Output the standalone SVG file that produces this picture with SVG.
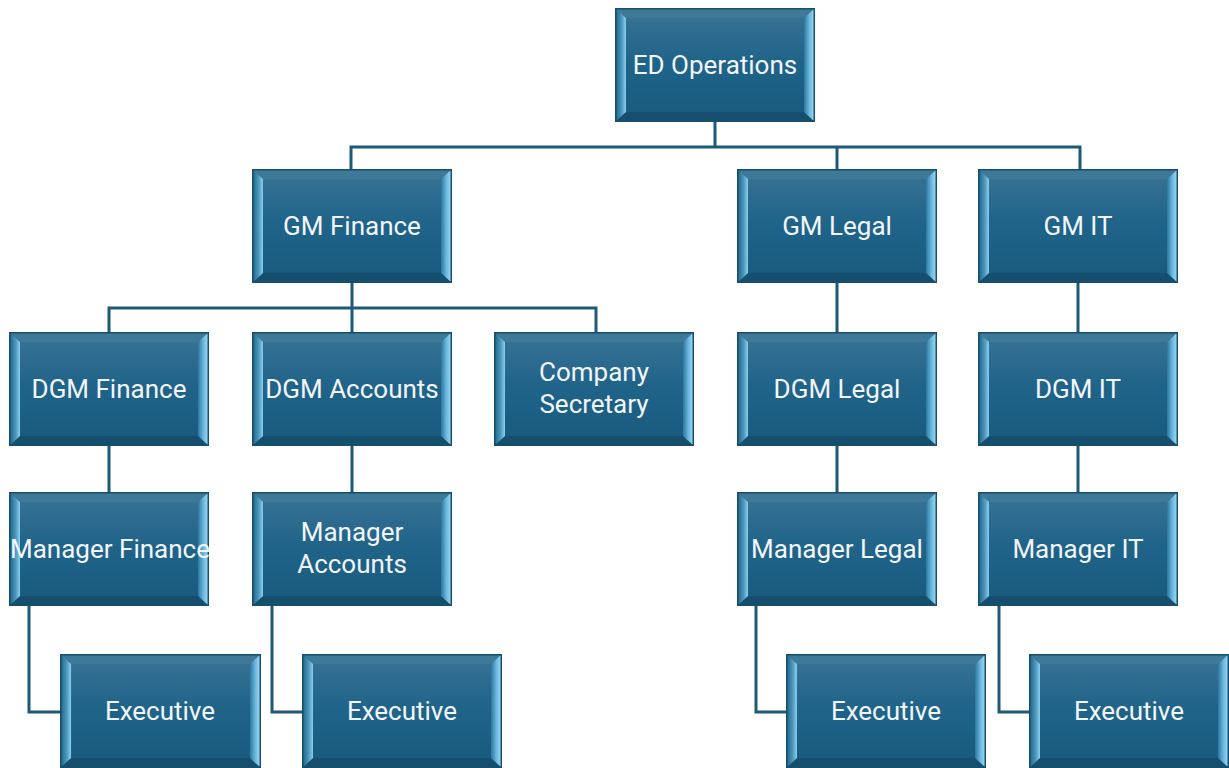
<svg xmlns="http://www.w3.org/2000/svg" xmlns:xlink="http://www.w3.org/1999/xlink" width="1229" height="768" viewBox="0 0 1229 768">
<style>
.lbl{font-family:Roboto,"Liberation Sans",sans-serif;font-size:26px;fill:#F2F6F9;text-anchor:middle}
.conn{fill:none;stroke:#1E5976;stroke-width:3}
</style>
<defs>
<linearGradient id="body" x1="0" y1="0" x2="0" y2="1">
<stop offset="0" stop-color="#3A7495"/><stop offset="0.45" stop-color="#21648A"/><stop offset="1" stop-color="#175A7D"/>
</linearGradient>
<linearGradient id="lb" x1="0" y1="0" x2="1" y2="0">
<stop offset="0" stop-color="#1B5E80"/><stop offset="0.6" stop-color="#4C97BC"/><stop offset="1" stop-color="#8ACFEF"/>
</linearGradient>
<linearGradient id="rb" x1="0" y1="0" x2="1" y2="0">
<stop offset="0" stop-color="#2C77A0"/><stop offset="0.5" stop-color="#6DB8DE"/><stop offset="1" stop-color="#A6E0F7"/>
</linearGradient>
<symbol id="box" viewBox="0 0 200 114" preserveAspectRatio="none">
<rect x="0" y="0" width="200" height="114" fill="url(#body)"/>
<polygon points="0,0 200,0 189,10 11,10" fill="#3F7998"/>
<polygon points="0,114 200,114 189,104 11,104" fill="#164F6E"/>
<polygon points="0,0 11,10 11,104 0,114" fill="url(#lb)"/>
<polygon points="200,0 189,10 189,104 200,114" fill="url(#rb)"/>
<rect x="0.75" y="0.75" width="198.5" height="112.5" fill="none" stroke="#164E6C" stroke-width="1.5"/>
</symbol>
</defs>
<rect width="1229" height="768" fill="#FFFFFF"/>
<g id="connectors">
<path class="conn" d="M715,122 V147 M351,169 V147 H1080 V169 M837,147 V169"/>
<path class="conn" d="M352,283 V308 M109,332 V308 H596 V332 M352,308 V332"/>
<path class="conn" d="M837,283 V332 M1078,283 V332"/>
<path class="conn" d="M109,446 V492 M352,446 V492 M837,446 V492 M1078,446 V492"/>
<path class="conn" d="M29,606 V712 H60 M272,606 V712 H302 M756,606 V712 H786 M999,606 V712 H1029"/>
</g>
<g id="ed-operations"><use xlink:href="#box" x="615" y="8" width="200" height="114"/><text class="lbl" x="715" y="74">ED Operations</text></g>
<g id="gm-finance"><use xlink:href="#box" x="252" y="169" width="200" height="114"/><text class="lbl" x="352" y="235">GM Finance</text></g>
<g id="gm-legal"><use xlink:href="#box" x="737" y="169" width="200" height="114"/><text class="lbl" x="837" y="235">GM Legal</text></g>
<g id="gm-it"><use xlink:href="#box" x="978" y="169" width="200" height="114"/><text class="lbl" x="1078" y="235">GM IT</text></g>
<g id="dgm-finance"><use xlink:href="#box" x="9" y="332" width="200" height="114"/><text class="lbl" x="109" y="398">DGM Finance</text></g>
<g id="dgm-accounts"><use xlink:href="#box" x="252" y="332" width="200" height="114"/><text class="lbl" x="352" y="398">DGM Accounts</text></g>
<g id="company-secretary"><use xlink:href="#box" x="494" y="332" width="200" height="114"/><text class="lbl" x="594" y="381">Company</text><text class="lbl" x="594" y="413">Secretary</text></g>
<g id="dgm-legal"><use xlink:href="#box" x="737" y="332" width="200" height="114"/><text class="lbl" x="837" y="398">DGM Legal</text></g>
<g id="dgm-it"><use xlink:href="#box" x="978" y="332" width="200" height="114"/><text class="lbl" x="1078" y="398">DGM IT</text></g>
<g id="manager-finance"><use xlink:href="#box" x="9" y="492" width="200" height="114"/><text class="lbl" x="110" y="558">Manager Finance</text></g>
<g id="manager-accounts"><use xlink:href="#box" x="252" y="492" width="200" height="114"/><text class="lbl" x="352" y="541">Manager</text><text class="lbl" x="352" y="573">Accounts</text></g>
<g id="manager-legal"><use xlink:href="#box" x="737" y="492" width="200" height="114"/><text class="lbl" x="837" y="558">Manager Legal</text></g>
<g id="manager-it"><use xlink:href="#box" x="978" y="492" width="200" height="114"/><text class="lbl" x="1078" y="558">Manager IT</text></g>
<g id="executive-finance"><use xlink:href="#box" x="60" y="654" width="201" height="114"/><text class="lbl" x="160" y="720">Executive</text></g>
<g id="executive-accounts"><use xlink:href="#box" x="302" y="654" width="200" height="114"/><text class="lbl" x="402" y="720">Executive</text></g>
<g id="executive-legal"><use xlink:href="#box" x="786" y="654" width="200" height="114"/><text class="lbl" x="886" y="720">Executive</text></g>
<g id="executive-it"><use xlink:href="#box" x="1029" y="654" width="200" height="114"/><text class="lbl" x="1129" y="720">Executive</text></g>
</svg>
